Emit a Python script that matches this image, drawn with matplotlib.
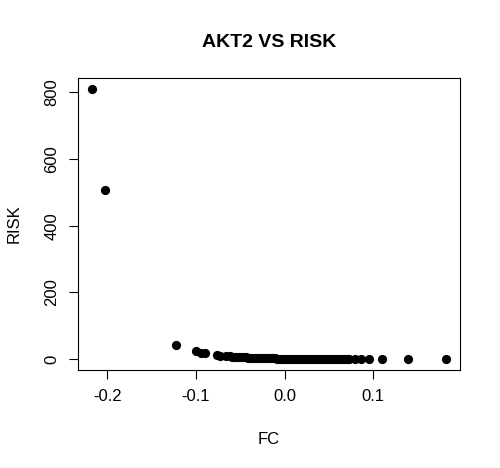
import numpy as np
import matplotlib.pyplot as plt

plt.rcParams['font.family'] = ['Liberation Sans', 'DejaVu Sans']

# FC vs RISK values
fc = [-0.217, -0.203, -0.122, -0.100, -0.094, -0.090, -0.076, -0.073,
      -0.066, -0.062, -0.059, -0.056, -0.053, -0.050, -0.047, -0.044,
      -0.041, -0.038, -0.035, -0.032, -0.029, -0.026, -0.023, -0.020,
      -0.017, -0.014, -0.011, -0.008, -0.005, -0.002, 0.001, 0.004,
      0.007, 0.010, 0.013, 0.016, 0.019, 0.022, 0.025, 0.028, 0.031,
      0.034, 0.037, 0.040, 0.043, 0.046, 0.049, 0.052, 0.055, 0.058,
      0.061, 0.064, 0.067, 0.070, 0.073, 0.079, 0.086,
      0.095, 0.110, 0.139, 0.182]
risk = [810, 506, 44, 24, 20, 18, 12, 11,
        9.5, 8.5, 8, 7.5, 7, 6.5, 6, 5.5,
        5, 4.6, 4.3, 4, 3.7, 3.4, 3.1, 2.9,
        2.7, 2.5, 2.3, 2.1, 1.9, 1.8, 1.7, 1.6,
        1.5, 1.4, 1.3, 1.2, 1.1, 1.0, 0.95, 0.9, 0.85,
        0.8, 0.75, 0.7, 0.65, 0.6, 0.55, 0.5, 0.48, 0.45,
        0.42, 0.4, 0.37, 0.35, 0.32, 0.3, 0.25,
        0.2, 0.15, 0.1, 0.05]

xticks = [-0.2, -0.1, 0.0, 0.1]
xlabels = ['-0.2', '-0.1', '0.0', '0.1']
yticks = [0, 200, 400, 600, 800]

fig = plt.figure(figsize=(5, 4.68), dpi=100)
ax = fig.add_axes([0.156, 0.2094, 0.764, 0.6239])

ax.scatter(fc, risk, s=44, c='black', linewidths=0)

# R style 4% padding
xr = max(fc) - min(fc)
yr = max(risk) - min(risk)
ax.set_xlim(min(fc) - 0.04 * xr, max(fc) + 0.04 * xr)
ax.set_ylim(min(risk) - 0.04 * yr, max(risk) + 0.04 * yr)

ax.set_xticks(xticks)
ax.set_xticklabels(xlabels)
ax.set_yticks(yticks)
ax.set_yticklabels([str(v) for v in yticks], rotation=90, va='center')
ax.tick_params(direction='out', length=6.5, width=0.8, labelsize=12, pad=7)

for s in ax.spines.values():
    s.set_linewidth(0.8)

ax.set_title('AKT2 VS RISK', fontsize=14, fontweight='bold', pad=22)
ax.set_xlabel('FC', fontsize=12, labelpad=20)
ax.set_ylabel('RISK', fontsize=12, labelpad=16)

fig.savefig('out.png', dpi=100)
